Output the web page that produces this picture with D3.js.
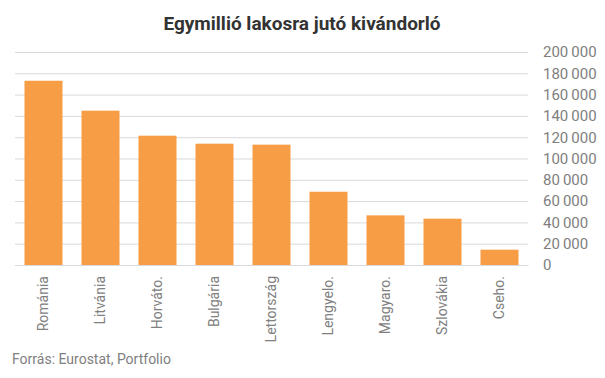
<!DOCTYPE html>
<html><head><meta charset="utf-8">
<script src="https://cdn.jsdelivr.net/npm/d3@7"></script>
<style>body{margin:0;background:#fff}svg{display:block}text{font-family:Roboto,"Noto Sans",sans-serif}</style>
</head><body>
<script>
const categories = ["Románia","Litvánia","Horváto.","Bulgária","Lettország","Lengyelo.","Magyaro.","Szlovákia","Cseho."];
const values = [173000,144900,121400,113900,113000,68800,46600,43500,14400];
const yTicks = [0,20000,40000,60000,80000,100000,120000,140000,160000,180000,200000];
const title = "Egymillió lakosra jutó kivándorló";
const source = "Forrás: Eurostat, Portfolio";

const W=605,H=378;
const m={left:15,right:77,top:52,bottom:113};
const svg=d3.select("body").append("svg").attr("width",W).attr("height",H);
const x=d3.scaleBand().domain(categories).range([m.left,W-m.right]).paddingInner(0.333).paddingOuter(0.1665);
const y=d3.scaleLinear().domain([0,200000]).range([H-m.bottom,m.top]);

const fmt=v=>d3.format(",")(v).replace(/,/g,"\u2009");
const ya=svg.append("g").attr("transform",`translate(${W-m.right},0)`)
  .call(d3.axisRight(y).tickValues(yTicks).tickSize(-(W-m.left-m.right)).tickPadding(15).tickFormat(fmt));
ya.select(".domain").remove();
ya.selectAll("line").attr("stroke","#d9d9d9").attr("stroke-width",1);
ya.selectAll("text").attr("fill","#808080").style("font-size","15px");

svg.append("g").selectAll("rect").data(values).join("rect")
  .attr("x",(d,i)=>x(categories[i])).attr("width",x.bandwidth())
  .attr("y",d=>y(d)).attr("height",d=>y(0)-y(d)).attr("fill","#f79d46");

const xa=svg.append("g").attr("transform",`translate(0,${H-m.bottom})`)
  .call(d3.axisBottom(x).tickSize(0).tickPadding(0));
xa.select(".domain").attr("stroke","#d9d9d9");
xa.selectAll("text").attr("transform","rotate(-90)").attr("text-anchor","end")
  .attr("x",-11).attr("y",0).attr("dy","0.35em").attr("fill","#808080").style("font-size","14px");

svg.append("text").attr("x",302).attr("y",30).attr("text-anchor","middle")
  .attr("fill","#333").style("font-size","19px").style("font-weight","bold").text(title);
svg.append("text").attr("x",12).attr("y",364).attr("fill","#808080").style("font-size","14px").text(source);
</script>
</body></html>
